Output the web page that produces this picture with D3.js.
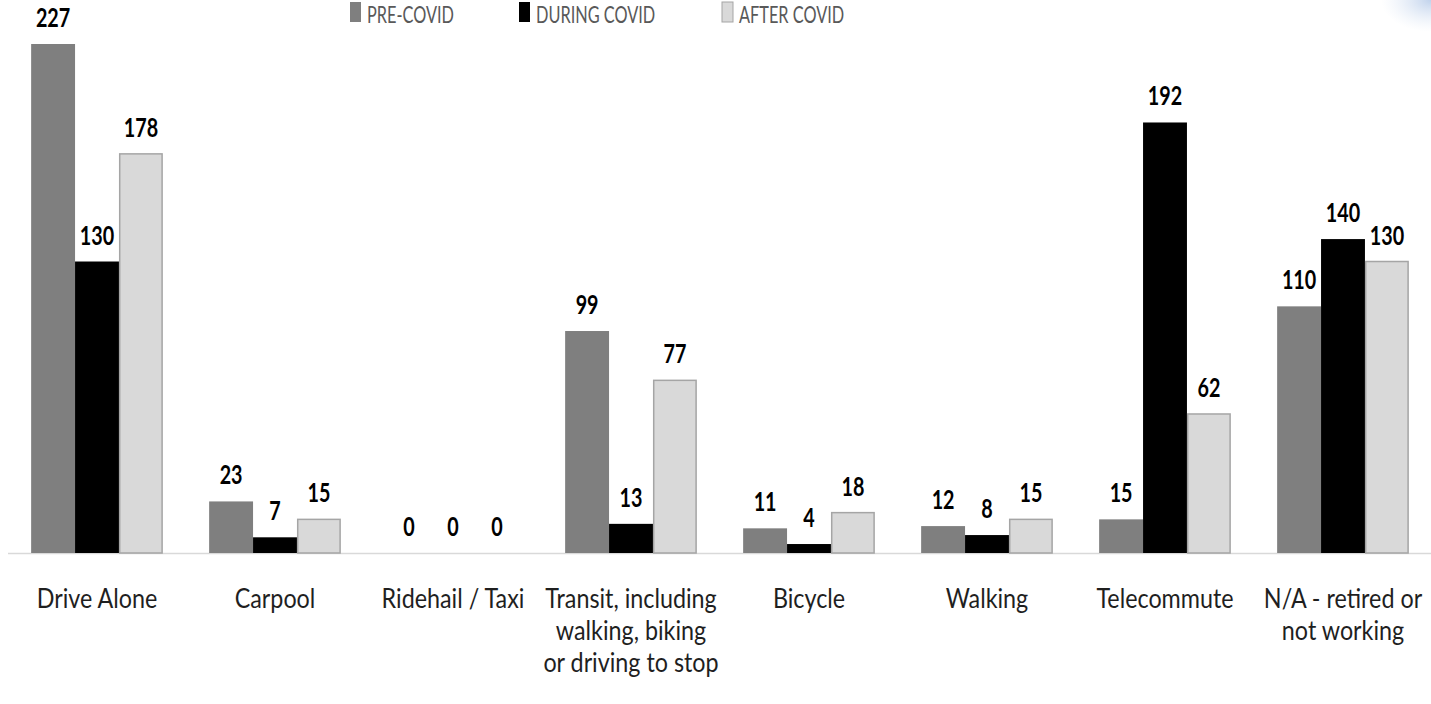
<!DOCTYPE html>
<html>
<head>
<meta charset="utf-8">
<script src="https://cdn.jsdelivr.net/npm/d3@7"></script>
<style>
  html, body { margin: 0; padding: 0; background: #fff; overflow: hidden; }
  svg { display: block; }
</style>
</head>
<body>
<div class="Canvas"></div>
<script>
const categories = [
  ['Drive Alone'],
  ['Carpool'],
  ['Ridehail / Taxi'],
  ['Transit, including', 'walking, biking', 'or driving to stop'],
  ['Bicycle'],
  ['Walking'],
  ['Telecommute'],
  ['N/A - retired or', 'not working'],
];
const seriesNames = ['PRE-COVID', 'DURING COVID', 'AFTER COVID'];
const preCovid = [227, 23, 0, 99, 11, 12, 15, 110];
const duringCovid = [130, 7, 0, 13, 4, 8, 192, 140];
const afterCovid = [178, 15, 0, 77, 18, 15, 62, 130];

const width = 1431;
const height = 704;
const baseY = 553;
const fontFam = 'Lato, "Open Sans", sans-serif';

const fills = ['#7f7f7f', '#000000', '#d9d9d9'];
const strokes = ['none', 'none', '#a5a5a5'];
const allSeries = [preCovid, duringCovid, afterCovid];

const svg = d3.select('.Canvas').append('svg').attr('width', width).attr('height', height);

// faint blue glow in the top right corner
const defs = svg.append('defs');
const grad = defs.append('radialGradient').attr('id', 'glow');
grad.append('stop').attr('offset', '0%').attr('stop-color', '#b9cdea').attr('stop-opacity', 0.9);
grad.append('stop').attr('offset', '100%').attr('stop-color', '#dfe8f5').attr('stop-opacity', 0);
svg.append('ellipse').attr('cx', 1431).attr('cy', 0).attr('rx', 50).attr('ry', 32).attr('fill', 'url(#glow)');

const x0 = d3.scaleBand().domain(d3.range(categories.length)).range([8, 1432]).paddingInner(0.26).paddingOuter(0.13);
const x1 = d3.scaleBand().domain(d3.range(seriesNames.length)).range([0, x0.bandwidth()]);
const y = d3.scaleLinear().domain([0, 227]).range([baseY, 44]);

// squeezed text helper (the source font is a tall narrow face)
const addText = (parent, x, yy, str, opts) => {
  parent.append('text')
    .attr('transform', `translate(${x},${yy}) scale(${opts.squeeze},1)`)
    .attr('text-anchor', opts.anchor || 'middle')
    .attr('font-family', fontFam)
    .attr('font-size', opts.size + 'px')
    .attr('font-weight', opts.weight || 'normal')
    .attr('fill', opts.fill || '#000')
    .text(str);
};

// axis line
svg.append('line')
  .attr('x1', 8).attr('x2', width).attr('y1', baseY + 0.5).attr('y2', baseY + 0.5)
  .attr('stroke', '#d9d9d9').attr('stroke-width', 1.5);

const groups = svg.selectAll('g.group')
  .data(d3.range(categories.length))
  .enter()
  .append('g')
  .attr('class', 'group')
  .attr('transform', (i) => `translate(${x0(i)},0)`);

groups.each(function (i) {
  const g = d3.select(this);
  seriesNames.forEach((s, k) => {
    const v = allSeries[k][i];
    const bx = x1(k);
    const bw = x1.bandwidth();
    if (v > 0) {
      g.append('rect')
        .attr('x', k == 2 ? bx + 0.75 : bx)
        .attr('y', y(v))
        .attr('width', k == 2 ? bw - 1.5 : bw)
        .attr('height', baseY - y(v))
        .attr('fill', fills[k])
        .attr('stroke', strokes[k])
        .attr('stroke-width', 1.5);
    }
    addText(g, bx + bw / 2, y(v) - 17, String(v), { size: 26, weight: 'bold', squeeze: 0.76 });
  });
  categories[i].forEach((line, j) => {
    addText(g, x0.bandwidth() / 2, 608 + j * 32, line, { size: 26.5, fill: '#1f1f1f', squeeze: 0.88 });
  });
});

// legend
const legendX = [350, 519, 722];
const legend = svg.append('g');
seriesNames.forEach((s, k) => {
  legend.append('rect')
    .attr('x', legendX[k]).attr('y', 2).attr('width', 11).attr('height', 20)
    .attr('fill', fills[k])
    .attr('stroke', k == 2 ? '#a5a5a5' : 'none');
  addText(legend, legendX[k] + 17, 23, s, { size: 23, fill: '#595959', anchor: 'start', squeeze: 0.71 });
});
</script>
</body>
</html>
